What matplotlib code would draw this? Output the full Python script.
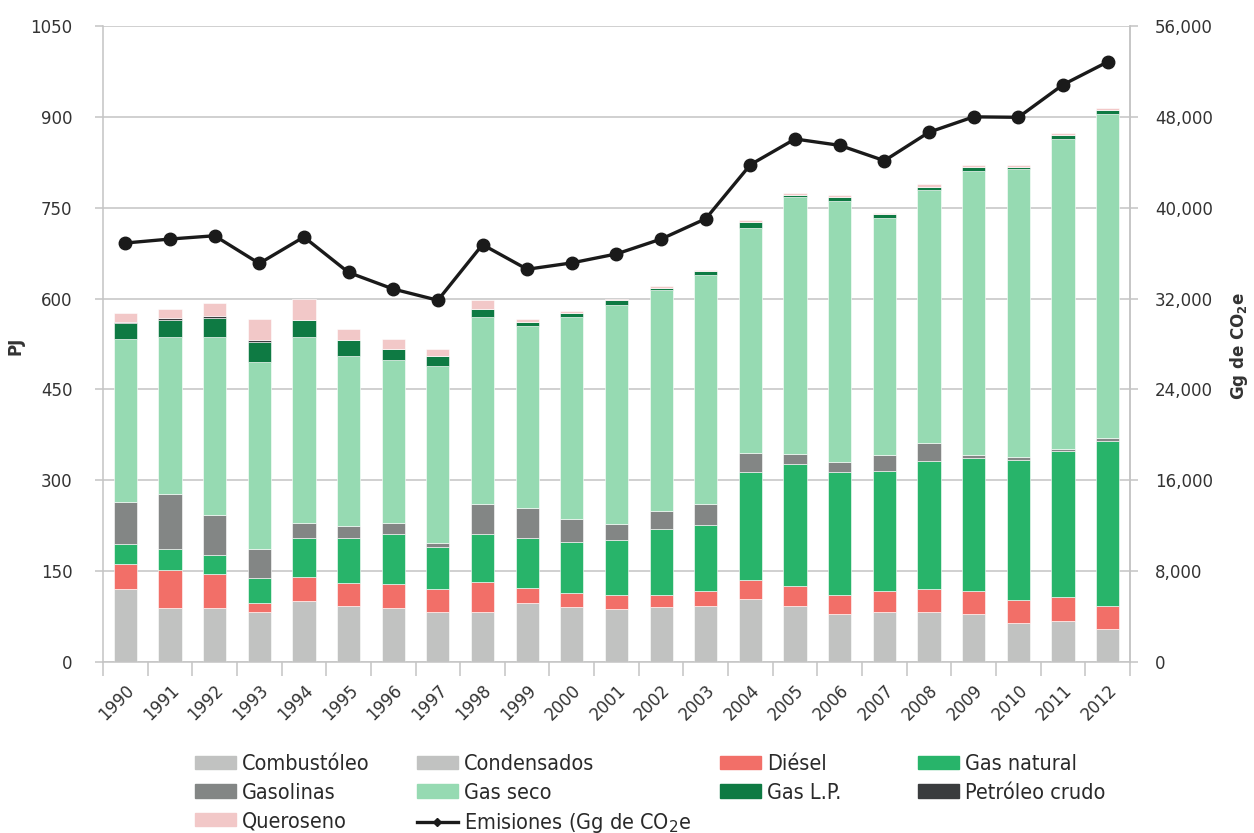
import matplotlib
matplotlib.use("Agg")
import matplotlib.pyplot as plt
import matplotlib.ticker as mticker
from matplotlib.patches import Patch
from matplotlib.lines import Line2D
from matplotlib import font_manager
import numpy as np

years = [str(y) for y in range(1990, 2013)]

# PJ por combustible
combustoleo = [121, 89, 89, 83, 100, 92, 89, 82, 83, 97, 90, 87, 90, 93, 104, 93, 80, 83, 83, 80, 65, 68, 54]
condensados = [0] * 23
diesel = [41, 63, 56, 14, 41, 39, 39, 39, 49, 25, 24, 24, 21, 25, 31, 32, 31, 34, 38, 37, 38, 39, 39]
gas_natural = [32, 35, 31, 41, 64, 73, 84, 69, 80, 83, 84, 91, 108, 108, 178, 202, 202, 199, 210, 220, 231, 241, 272]
gasolinas = [70, 90, 66, 49, 24, 20, 18, 7, 49, 49, 38, 25, 31, 35, 32, 17, 17, 25, 30, 4, 4, 4, 4]
gas_seco = [270, 260, 295, 309, 308, 281, 269, 291, 308, 301, 333, 363, 364, 378, 372, 424, 431, 392, 418, 469, 476, 511, 536]
gas_lp = [25, 28, 31, 32, 28, 27, 17, 17, 14, 7, 7, 7, 3, 7, 10, 3, 7, 6, 6, 7, 3, 7, 7]
petroleo_crudo = [3, 3, 4, 3, 0, 0, 0, 0, 0, 0, 0, 0, 0, 0, 0, 0, 0, 0, 0, 0, 0, 0, 0]
queroseno = [14, 14, 20, 35, 35, 18, 18, 11, 14, 4, 4, 3, 3, 1, 3, 3, 3, 3, 4, 3, 3, 3, 3]

# Gg de CO2e
emisiones = [36890, 37240, 37530, 35090, 37420, 34300, 32840, 31850, 36750, 34580, 35140, 35930,
             37240, 39030, 43790, 46050, 45490, 44140, 46650, 48000, 47960, 50830, 52840]

series = [
    ("Combustóleo", combustoleo, "#c1c2c1"),
    ("Condensados", condensados, "#c1c2c1"),
    ("Diésel", diesel, "#f26f68"),
    ("Gas natural", gas_natural, "#28b46a"),
    ("Gasolinas", gasolinas, "#838685"),
    ("Gas seco", gas_seco, "#96dab2"),
    ("Gas L.P.", gas_lp, "#0e7a43"),
    ("Petróleo crudo", petroleo_crudo, "#3a3c3e"),
    ("Queroseno", queroseno, "#f2c8c8"),
]

grid_col = "#c4c4c4"
text_col = "#333333"

fig = plt.figure(figsize=(12.54, 8.33), dpi=100)
ax = fig.add_axes([0.0821, 0.2053, 0.819, 0.7635])

x = np.arange(len(years))
bottom = np.zeros(len(years))
for name, vals, col in series:
    ax.bar(x, vals, width=0.52, bottom=bottom, color=col, edgecolor="white", linewidth=0.4, zorder=2)
    bottom += np.array(vals)

ax.set_xlim(-0.5, len(years) - 0.5)
ax.set_ylim(0, 1050)
ax.set_yticks(np.arange(0, 1051, 150))
ax.yaxis.grid(True, color=grid_col, linewidth=1.1)
ax.set_axisbelow(True)

# ticks between categories, labels at the centres
ax.set_xticks(np.arange(-0.5, len(years), 1))
ax.set_xticklabels([])
ax.set_xticks(x, minor=True)
ax.set_xticklabels(years, minor=True, rotation=45, ha="right", rotation_mode="anchor",
                   fontsize=12, color=text_col)
ax.tick_params(axis="x", which="major", length=10, color=grid_col, width=1.1)
ax.tick_params(axis="x", which="minor", length=0, pad=14)
ax.tick_params(axis="y", length=6, color=grid_col, width=1.1, labelsize=12, labelcolor=text_col, pad=16)

ax.spines["top"].set_visible(False)
for side in ["left", "bottom", "right"]:
    ax.spines[side].set_color(grid_col)
    ax.spines[side].set_linewidth(1.1)

ax2 = ax.twinx()
ax2.plot(x, emisiones, color="#1a1a1a", linewidth=2.4, marker="o", markersize=9, zorder=5)
ax2.set_ylim(0, 56000)
ax2.set_yticks(np.arange(0, 56001, 8000))
ax2.yaxis.set_major_formatter(mticker.FuncFormatter(lambda v, p: f"{int(v):,}"))
ax2.tick_params(axis="y", length=6, color=grid_col, width=1.1, labelsize=12, labelcolor=text_col, pad=12)
for side in ["top", "left", "bottom"]:
    ax2.spines[side].set_visible(False)
ax2.spines["right"].set_color(grid_col)
ax2.spines["right"].set_linewidth(1.1)

fig.text(0.012, 0.585, "PJ", rotation=90, fontsize=12, fontweight="bold", color=text_col,
         ha="center", va="center")
fig.text(0.988, 0.585, "Gg de CO$_\\mathbf{2}$e", rotation=90, fontsize=12, fontweight="bold",
         color=text_col, ha="center", va="center")

# legend, four columns placed separately
handles = {name: Patch(color=col) for name, vals, col in series}
handles["Emisiones"] = Line2D([], [], color="#1a1a1a", linewidth=2.4, marker="D", markersize=4)
labels = {name: name for name in handles}
labels["Emisiones"] = "Emisiones (Gg de CO$_2$e"

leg_font = font_manager.FontProperties(family=["DejaVu Sans"], stretch="condensed",
                                       weight="light", size=15.5)
columns = [
    (195, ["Combustóleo", "Gasolinas", "Queroseno"]),
    (417, ["Condensados", "Gas seco", "Emisiones"]),
    (720, ["Diésel", "Gas L.P."]),
    (918, ["Gas natural", "Petróleo crudo"]),
]
for xpix, names in columns:
    leg = fig.legend([handles[n] for n in names], [labels[n] for n in names],
                     loc="upper left", bbox_to_anchor=(xpix / 1254, 1 - 754 / 833),
                     frameon=False, handlelength=1.9, handleheight=0.6,
                     handletextpad=0.3, labelspacing=0.4, borderpad=0, borderaxespad=0,
                     prop=leg_font)
    for t in leg.get_texts():
        t.set_color("#2a2a2a")

fig.savefig("out.png", dpi=100)
